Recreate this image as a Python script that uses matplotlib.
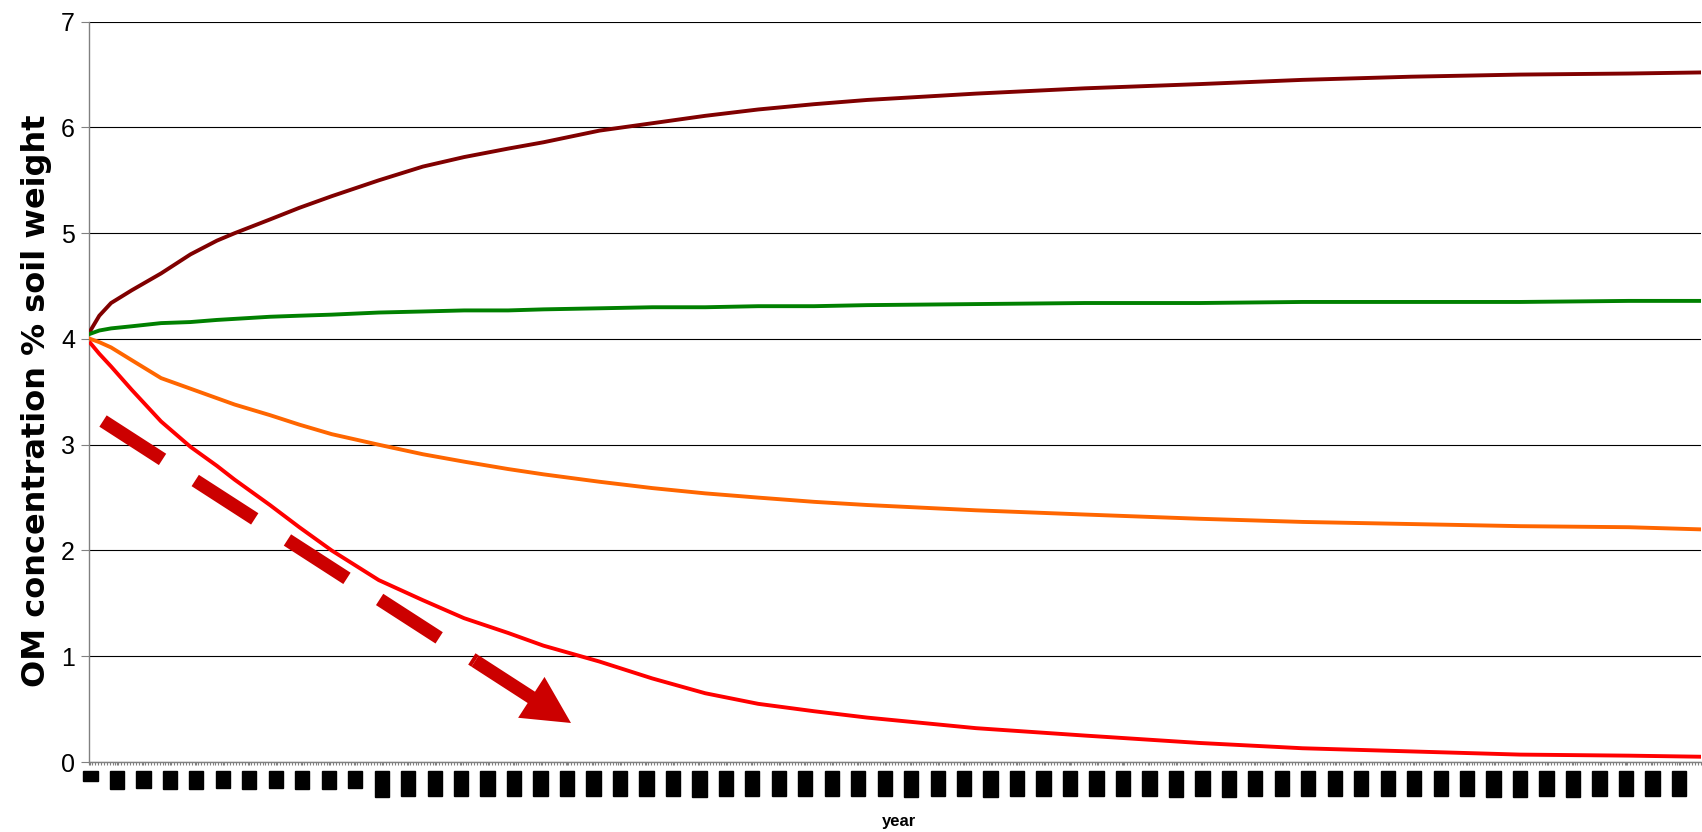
import numpy as np
import matplotlib
matplotlib.use('Agg')
import matplotlib.pyplot as plt
from matplotlib.patches import FancyArrowPatch, ArrowStyle
from matplotlib.ticker import FixedLocator

plt.rcParams['font.family'] = ['Liberation Sans', 'DejaVu Sans']
plt.rcParams['lines.scale_dashes'] = False

years = [1, 4, 8, 15, 25, 35, 44, 50, 62, 72, 83, 99, 114, 128, 143, 155,
         174, 192, 210, 228, 247, 265, 302, 339, 378, 413, 450, 487, 524, 548]

om_high = [4.08, 4.22, 4.34, 4.46, 4.62, 4.80, 4.93, 5.00, 5.13, 5.24, 5.35, 5.50,
           5.63, 5.72, 5.80, 5.86, 5.97, 6.04, 6.11, 6.17, 6.22, 6.26, 6.32, 6.37,
           6.41, 6.45, 6.48, 6.50, 6.51, 6.52]
om_steady = [4.05, 4.08, 4.10, 4.12, 4.15, 4.16, 4.18, 4.19, 4.21, 4.22, 4.23, 4.25,
             4.26, 4.27, 4.27, 4.28, 4.29, 4.30, 4.30, 4.31, 4.31, 4.32, 4.33, 4.34,
             4.34, 4.35, 4.35, 4.35, 4.36, 4.36]
om_mid = [4.00, 3.97, 3.92, 3.80, 3.63, 3.53, 3.44, 3.38, 3.28, 3.19, 3.10, 3.00,
          2.91, 2.84, 2.77, 2.72, 2.65, 2.59, 2.54, 2.50, 2.46, 2.43, 2.38, 2.34,
          2.30, 2.27, 2.25, 2.23, 2.22, 2.20]
om_low = [3.96, 3.86, 3.74, 3.52, 3.22, 2.98, 2.80, 2.67, 2.43, 2.22, 2.00, 1.72,
          1.53, 1.36, 1.22, 1.10, 0.95, 0.79, 0.65, 0.55, 0.48, 0.42, 0.32, 0.25,
          0.18, 0.13, 0.10, 0.07, 0.06, 0.05]

n_years = 548
label_years = list(range(1, n_years, 9))
label_text = [str(y) for y in label_years]

fig = plt.figure(figsize=(17.02, 8.32), dpi=100)
ax = fig.add_axes([89 / 1702, 70 / 832, 1612 / 1702, 740.3 / 832])

ax.plot(years, om_high, color='#800000', lw=2.8, zorder=3)
ax.plot(years, om_steady, color='#008000', lw=2.8, zorder=3)
ax.plot(years, om_mid, color='#FF6600', lw=2.8, zorder=3)
ax.plot(years, om_low, color='#FF0000', lw=2.8, zorder=3)

ax.set_xlim(0.5, n_years + 0.5)
ax.set_ylim(0, 7)
ax.set_yticks(range(0, 8))
ax.yaxis.grid(True, color='black', lw=0.8)
ax.set_axisbelow(True)

for s in ['top', 'right']:
    ax.spines[s].set_visible(False)
for s in ['left', 'bottom']:
    ax.spines[s].set_color('#808080')
    ax.spines[s].set_linewidth(1.0)

ax.tick_params(axis='y', direction='out', length=6, color='#808080',
               labelsize=18, pad=4)
ax.xaxis.set_major_locator(FixedLocator(label_years))
ax.xaxis.set_minor_locator(FixedLocator(np.arange(0.5, n_years + 1, 1)))
ax.tick_params(axis='x', which='both', direction='out', length=2.2,
               color='#808080', width=0.8)
ax.set_xticklabels(label_text, rotation=90, fontsize=9, color='black',
                   family='DejaVu Sans', va='top',
                   bbox=dict(boxstyle='square,pad=0.05', fc='black', ec='black'))
ax.tick_params(axis='x', which='major', pad=5)

ax.set_ylabel('OM concentration % soil weight', family='DejaVu Sans',
              fontsize=23, fontweight='bold')
ax.yaxis.set_label_coords(-0.023, 0.488)
ax.set_xlabel('year', fontsize=12, fontweight='bold')
ax.xaxis.set_label_coords(0.5025, -0.07)

# dashed trend arrow (axes fraction coordinates)
ax.plot([0.0087, 0.2395], [0.4606, 0.1364], transform=ax.transAxes,
        color='#CC0000', lw=9.7, dashes=(51, 28), dash_capstyle='butt',
        clip_on=False, zorder=4)
head = FancyArrowPatch((0.2395, 0.1364), (0.299, 0.0527), transform=ax.transAxes,
                       arrowstyle=ArrowStyle.Simple(head_length=34, head_width=35,
                                                    tail_width=9.7),
                       mutation_scale=1, shrinkA=0, shrinkB=0,
                       color='#CC0000', lw=0, zorder=4)
ax.add_patch(head)

fig.savefig('out.png', dpi=100)
